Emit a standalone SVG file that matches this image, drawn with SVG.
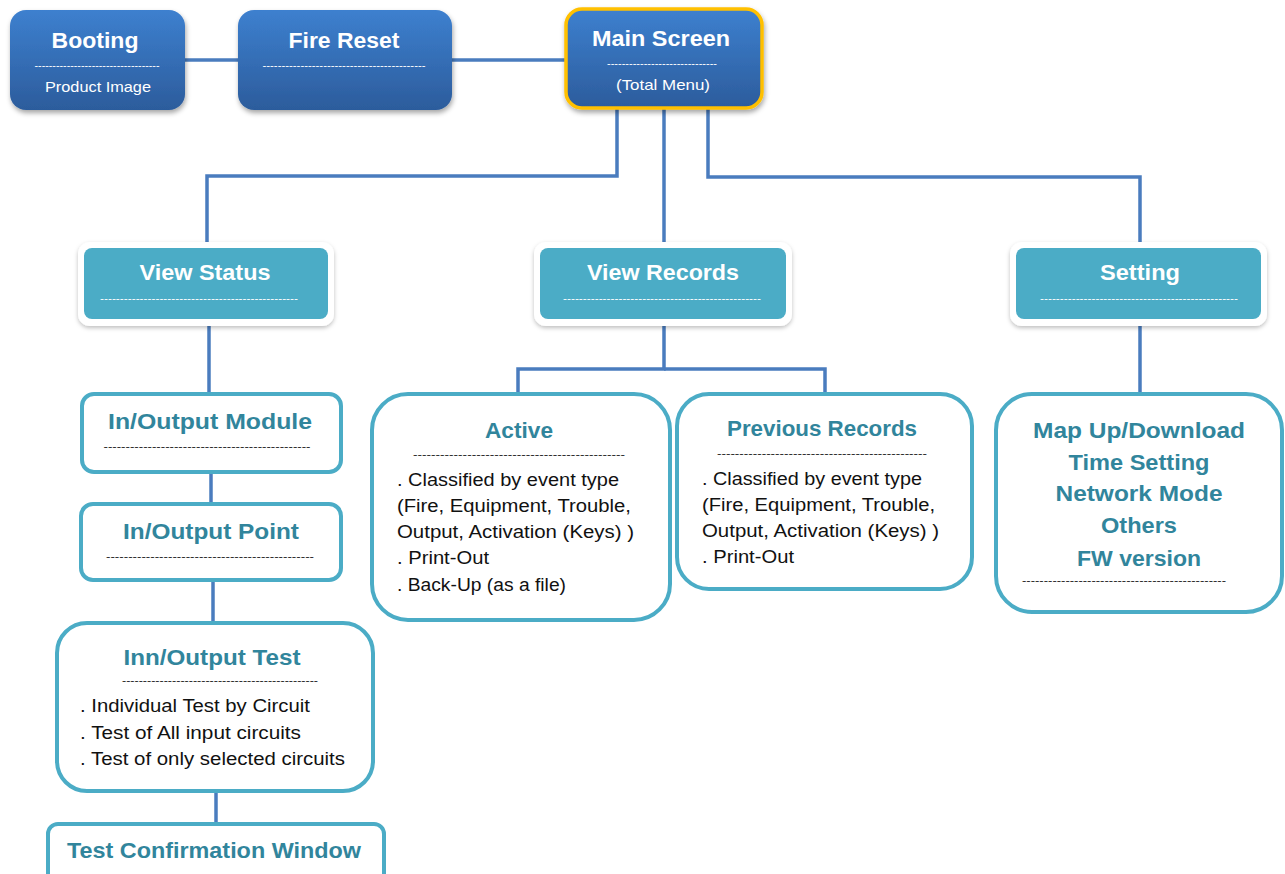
<svg xmlns="http://www.w3.org/2000/svg" width="1285" height="874" viewBox="0 0 1285 874">
<defs>
<linearGradient id="blue" x1="0" y1="0" x2="0" y2="1">
<stop offset="0" stop-color="#3D80CF"/>
<stop offset="1" stop-color="#2C5C9C"/>
</linearGradient>
<filter id="sh" x="-10%" y="-10%" width="130%" height="140%">
<feDropShadow dx="1" dy="3" stdDeviation="2.5" flood-color="#000" flood-opacity="0.35"/>
</filter>
<filter id="sh2" x="-10%" y="-10%" width="130%" height="140%">
<feDropShadow dx="0" dy="2" stdDeviation="2" flood-color="#000" flood-opacity="0.25"/>
</filter>
</defs>
<style>
.conn{fill:none;stroke:#4A7CBE;stroke-width:3.5}
.bluebox{fill:url(#blue);filter:url(#sh)}
.tealouter{fill:#fff;filter:url(#sh2)}
.tealinner{fill:#4BACC6}
.wbox{fill:#fff;stroke:#4BACC6;stroke-width:4}
.wt{font-family:"Liberation Sans",Arial,sans-serif;font-weight:bold;font-size:22px;fill:#fff;text-anchor:middle}
.tt{font-family:"Liberation Sans",Arial,sans-serif;font-weight:bold;font-size:22px;fill:#31859C;text-anchor:middle}
.body{font-family:"Liberation Sans",Arial,sans-serif;font-size:17.5px;fill:#111}
.dw{font-family:"Liberation Sans",Arial,sans-serif;font-size:11px;fill:#fff;text-anchor:middle}
.dk{font-family:"Liberation Sans",Arial,sans-serif;font-size:11px;fill:#222;text-anchor:middle}
.sub{font-family:"Liberation Sans",Arial,sans-serif;font-size:15px;fill:#fff;text-anchor:middle}
</style>
<rect width="1285" height="874" fill="#fff"/>
<g id="connectors">
<line class="conn" x1="185" y1="60" x2="238" y2="60"/>
<line class="conn" x1="452" y1="60" x2="566" y2="60"/>
<polyline class="conn" points="617,108 617,176 207,176 207,248"/>
<line class="conn" x1="664" y1="108" x2="664" y2="248"/>
<polyline class="conn" points="708,108 708,177 1140,177 1140,248"/>
<line class="conn" x1="209" y1="322" x2="209" y2="393"/>
<line class="conn" x1="211" y1="472" x2="211" y2="503"/>
<line class="conn" x1="213" y1="580" x2="213" y2="622"/>
<line class="conn" x1="216" y1="791" x2="216" y2="823"/>
<polyline class="conn" points="664,322 664,369 518,369 518,393"/>
<polyline class="conn" points="664,369 825,369 825,393"/>
<line class="conn" x1="1140" y1="322" x2="1140" y2="393"/>
</g>
<g id="booting">
<rect class="bluebox" x="10" y="10" width="175" height="100" rx="16"/>
<text class="wt" x="95" y="48" textLength="87" lengthAdjust="spacingAndGlyphs">Booting</text>
<text class="dw" x="97" y="69" textLength="125" lengthAdjust="spacingAndGlyphs">-----------------------------------</text>
<text class="sub" x="98" y="92" textLength="106" lengthAdjust="spacingAndGlyphs">Product Image</text>
</g>
<g id="fire-reset">
<rect class="bluebox" x="238" y="10" width="214" height="100" rx="16"/>
<text class="wt" x="344" y="48" textLength="111" lengthAdjust="spacingAndGlyphs">Fire Reset</text>
<text class="dw" x="344" y="69" textLength="163" lengthAdjust="spacingAndGlyphs">-------------------------------------------</text>
</g>
<g id="main-screen">
<rect x="566" y="9" width="196" height="99" rx="16" fill="url(#blue)" stroke="#FFC000" stroke-width="3.5" filter="url(#sh)"/>
<text class="wt" x="661" y="46" textLength="138" lengthAdjust="spacingAndGlyphs">Main Screen</text>
<text class="dw" x="662" y="67" textLength="110" lengthAdjust="spacingAndGlyphs">------------------------------</text>
<text class="sub" x="663" y="90" textLength="94" lengthAdjust="spacingAndGlyphs">(Total Menu)</text>
</g>
<g id="view-status">
<rect class="tealouter" x="78" y="242" width="256" height="84" rx="12"/>
<rect class="tealinner" x="84" y="248" width="244" height="71" rx="8"/>
<text class="wt" x="205" y="280" textLength="131" lengthAdjust="spacingAndGlyphs">View Status</text>
<text class="dw" x="199" y="302" textLength="198" lengthAdjust="spacingAndGlyphs">--------------------------------------------------</text>
</g>
<g id="view-records">
<rect class="tealouter" x="534" y="242" width="258" height="84" rx="12"/>
<rect class="tealinner" x="540" y="248" width="246" height="71" rx="8"/>
<text class="wt" x="663" y="280" textLength="152" lengthAdjust="spacingAndGlyphs">View Records</text>
<text class="dw" x="662" y="302" textLength="198" lengthAdjust="spacingAndGlyphs">--------------------------------------------------</text>
</g>
<g id="setting">
<rect class="tealouter" x="1010" y="242" width="257" height="84" rx="12"/>
<rect class="tealinner" x="1016" y="248" width="245" height="71" rx="8"/>
<text class="wt" x="1140" y="280" textLength="80" lengthAdjust="spacingAndGlyphs">Setting</text>
<text class="dw" x="1139" y="302" textLength="198" lengthAdjust="spacingAndGlyphs">--------------------------------------------------</text>
</g>
<g id="io-module">
<rect class="wbox" x="82" y="394" width="259" height="78" rx="12"/>
<text class="tt" x="210" y="429" textLength="204" lengthAdjust="spacingAndGlyphs">In/Output Module</text>
<text class="dk" x="207" y="450" textLength="207" lengthAdjust="spacingAndGlyphs">-----------------------------------------------</text>
</g>
<g id="io-point">
<rect class="wbox" x="81" y="504" width="260" height="76" rx="12"/>
<text class="tt" x="211" y="539" textLength="176" lengthAdjust="spacingAndGlyphs">In/Output Point</text>
<text class="dk" x="210" y="560" textLength="208" lengthAdjust="spacingAndGlyphs">-----------------------------------------------</text>
</g>
<g id="io-test">
<rect class="wbox" x="57" y="623" width="316" height="168" rx="30"/>
<text class="tt" x="212" y="665" textLength="177" lengthAdjust="spacingAndGlyphs">Inn/Output Test</text>
<text class="dk" x="220" y="684" textLength="196" lengthAdjust="spacingAndGlyphs">-----------------------------------------------</text>
<text class="body" x="80" y="712" textLength="230" lengthAdjust="spacingAndGlyphs">. Individual Test by Circuit</text>
<text class="body" x="80" y="739" textLength="221" lengthAdjust="spacingAndGlyphs">. Test of All input circuits</text>
<text class="body" x="80" y="765" textLength="265" lengthAdjust="spacingAndGlyphs">. Test of only selected circuits</text>
</g>
<g id="test-confirm">
<rect class="wbox" x="48" y="824" width="336" height="70" rx="10"/>
<text class="tt" x="214" y="858" textLength="294" lengthAdjust="spacingAndGlyphs">Test Confirmation Window</text>
</g>
<g id="active">
<rect class="wbox" x="372" y="394" width="298" height="226" rx="36"/>
<text class="tt" x="519" y="438" textLength="68" lengthAdjust="spacingAndGlyphs">Active</text>
<text class="dk" x="519" y="458" textLength="212" lengthAdjust="spacingAndGlyphs">-----------------------------------------------</text>
<text class="body" x="397" y="486" textLength="222" lengthAdjust="spacingAndGlyphs">. Classified  by event type</text>
<text class="body" x="397" y="512" textLength="234" lengthAdjust="spacingAndGlyphs">(Fire, Equipment,  Trouble,</text>
<text class="body" x="397" y="538" textLength="237" lengthAdjust="spacingAndGlyphs">Output, Activation (Keys)  )</text>
<text class="body" x="397" y="564" textLength="92" lengthAdjust="spacingAndGlyphs">. Print-Out</text>
<text class="body" x="397" y="591" textLength="169" lengthAdjust="spacingAndGlyphs">. Back-Up (as a file)</text>
</g>
<g id="previous-records">
<rect class="wbox" x="677" y="394" width="295" height="195" rx="32"/>
<text class="tt" x="822" y="436" textLength="190" lengthAdjust="spacingAndGlyphs">Previous Records</text>
<text class="dk" x="822" y="457" textLength="210" lengthAdjust="spacingAndGlyphs">-----------------------------------------------</text>
<text class="body" x="702" y="485" textLength="220" lengthAdjust="spacingAndGlyphs">. Classified  by event type</text>
<text class="body" x="702" y="511" textLength="233" lengthAdjust="spacingAndGlyphs">(Fire, Equipment,  Trouble,</text>
<text class="body" x="702" y="537" textLength="237" lengthAdjust="spacingAndGlyphs">Output, Activation (Keys)  )</text>
<text class="body" x="702" y="563" textLength="92" lengthAdjust="spacingAndGlyphs">. Print-Out</text>
</g>
<g id="setting-items">
<rect class="wbox" x="996" y="394" width="286" height="218" rx="36"/>
<text class="tt" x="1139" y="438" textLength="212" lengthAdjust="spacingAndGlyphs">Map Up/Download</text>
<text class="tt" x="1139" y="470" textLength="141" lengthAdjust="spacingAndGlyphs">Time Setting</text>
<text class="tt" x="1139" y="501" textLength="167" lengthAdjust="spacingAndGlyphs">Network Mode</text>
<text class="tt" x="1139" y="533" textLength="76" lengthAdjust="spacingAndGlyphs">Others</text>
<text class="tt" x="1139" y="566" textLength="124" lengthAdjust="spacingAndGlyphs">FW version</text>
<text class="dk" x="1124" y="584" textLength="204" lengthAdjust="spacingAndGlyphs">-----------------------------------------------</text>
</g>
</svg>
